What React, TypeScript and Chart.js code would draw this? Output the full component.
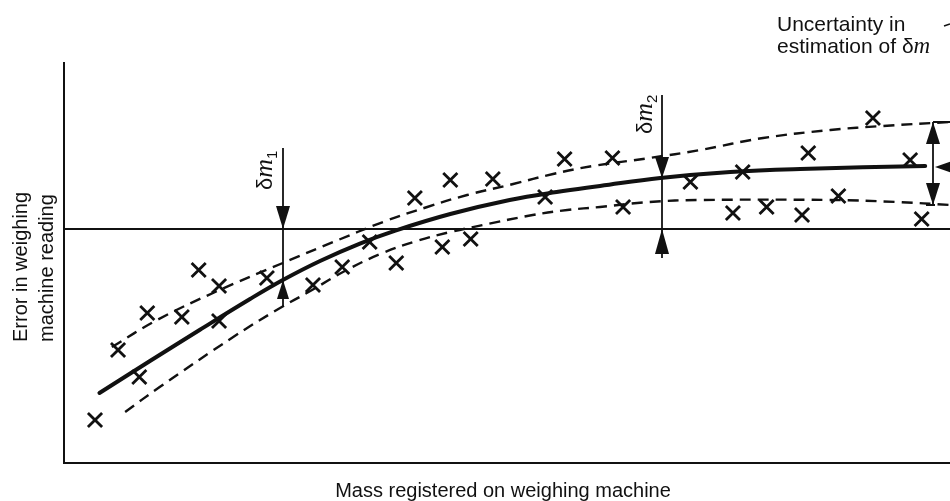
import React, { useEffect, useRef } from "react";
import { Chart, registerables } from "chart.js";

Chart.register(...registerables);

// ---- data (arbitrary units: x = mass registered, y = error in reading) ----
const markerX = [3.5, 6.1, 8.5, 9.4, 13.3, 15.2, 17.5, 17.5, 22.9, 28.1, 31.4, 34.5, 37.5, 39.6, 42.7, 43.6, 45.9, 48.4, 54.3, 56.5, 61.9, 63.1, 70.7, 76.6, 75.5, 79.3, 84.0, 83.3, 87.4, 91.3, 95.5, 96.8];
const markerY = [-9.55, -6.05, -7.4, -4.2, -4.4, -2.05, -2.85, -4.6, -2.45, -2.8, -1.9, -0.65, -1.7, 1.55, -0.9, 2.45, -0.5, 2.5, 1.6, 3.5, 3.55, 1.1, 2.35, 2.85, 0.8, 1.1, 3.8, 0.7, 1.65, 5.55, 3.45, 0.5];

const fitX = [4.0, 9.7, 15.3, 21.0, 24.7, 28.9, 33.4, 37.4, 43.6, 50.3, 55.6, 60.5, 67.3, 75.2, 83.1, 97.2];
const fitY = [-8.2, -6.6, -5.05, -3.5, -2.55, -1.6, -0.73, -0.08, 0.75, 1.45, 1.85, 2.15, 2.55, 2.85, 3.0, 3.15];

const upperX = [5.4, 10.5, 17.3, 24.7, 30.4, 36.0, 41.0, 45.5, 50.7, 55.2, 59.7, 66.1, 71.8, 78.9, 86.5, 92.4, 100];
const upperY = [-5.9, -4.55, -3.1, -1.7, -0.65, 0.35, 1.1, 1.7, 2.25, 2.75, 3.15, 3.55, 3.95, 4.55, 4.95, 5.15, 5.35];

const lowerX = [6.9, 10.8, 19.1, 24.0, 28.0, 31.7, 35.7, 39.8, 43.6, 47.3, 52.9, 56.8, 60.5, 66.1, 71.8, 86.5, 94.0, 100];
const lowerY = [-9.15, -7.9, -5.4, -4.05, -3.05, -2.1, -1.25, -0.6, -0.15, 0.2, 0.7, 0.95, 1.1, 1.35, 1.45, 1.45, 1.35, 1.2];

const xTitle = "Mass registered on weighing machine";
const yTitleLines = ["Error in weighing", "machine reading"];
const noteLine1 = "Uncertainty in";
const noteLine2 = "estimation of ";

// annotation anchors (data units)
const d1X = 24.7, d1Top = 4.05, d1Bottom = -3.9, d1Fit = -2.55;
const d2X = 67.5, d2Top = 6.7, d2Bottom = -1.45, d2Fit = 2.55;
const uX = 98.1, uTop = 5.35, uBottom = 1.2, uFit = 3.1;

const X_MIN = 0, X_MAX = 100, Y_MIN = -11.7, Y_MAX = 8.35;

const INK = "#111";
const SANS = '"Liberation Sans", Arial, sans-serif';
const SERIF = '"Liberation Serif", "Times New Roman", serif';

function toPts(xs: number[], ys: number[]) {
  return xs.map((x, i) => ({ x, y: ys[i] }));
}

function head(ctx: CanvasRenderingContext2D, x: number, tipY: number, dir: number, len: number, hw: number) {
  // dir = 1: pointing down (tip below base); dir = -1: pointing up
  ctx.beginPath();
  ctx.moveTo(x, tipY);
  ctx.lineTo(x - hw, tipY - dir * len);
  ctx.lineTo(x + hw, tipY - dir * len);
  ctx.closePath();
  ctx.fill();
}

function deltaLabel(ctx: CanvasRenderingContext2D, baseX: number, startY: number, sub: string) {
  ctx.save();
  ctx.translate(baseX, startY);
  ctx.rotate(-Math.PI / 2);
  ctx.textAlign = "left";
  ctx.textBaseline = "alphabetic";
  let cx = 0;
  ctx.font = `22px ${SANS}`;
  ctx.fillText("δ", cx, 0);
  cx += ctx.measureText("δ").width;
  ctx.font = `italic 26px ${SERIF}`;
  ctx.fillText("m", cx, 0);
  cx += ctx.measureText("m").width;
  ctx.font = `15px ${SANS}`;
  ctx.fillText(sub, cx, 5);
  ctx.restore();
}

const annotations = {
  id: "annotations",
  beforeDatasetsDraw(chart: any) {
    const { ctx, chartArea: a } = chart;
    const ys = chart.scales.y;
    ctx.save();
    ctx.strokeStyle = INK;
    ctx.lineWidth = 2;
    ctx.beginPath();
    ctx.moveTo(a.left, a.top);
    ctx.lineTo(a.left, a.bottom);
    ctx.lineTo(a.right, a.bottom);
    ctx.stroke();
    const y0 = ys.getPixelForValue(0);
    ctx.beginPath();
    ctx.moveTo(a.left, y0);
    ctx.lineTo(a.right, y0);
    ctx.stroke();
    ctx.restore();
  },
  afterDatasetsDraw(chart: any) {
    const { ctx, chartArea: a } = chart;
    const xs = chart.scales.x;
    const ys = chart.scales.y;
    const px = (v: number) => xs.getPixelForValue(v);
    const py = (v: number) => ys.getPixelForValue(v);
    ctx.save();
    ctx.strokeStyle = INK;
    ctx.fillStyle = INK;
    ctx.lineWidth = 1.8;

    // δm1
    const x1 = Math.round(px(d1X));
    ctx.beginPath();
    ctx.moveTo(x1, py(d1Top));
    ctx.lineTo(x1, py(d1Bottom));
    ctx.stroke();
    head(ctx, x1, py(0), 1, 23, 7);
    head(ctx, x1, py(d1Fit), -1, 19, 6);
    deltaLabel(ctx, x1 - 11, py(d1Top) + 42, "1");

    // δm2
    const x2 = Math.round(px(d2X));
    ctx.beginPath();
    ctx.moveTo(x2, py(d2Top));
    ctx.lineTo(x2, py(d2Bottom));
    ctx.stroke();
    head(ctx, x2, py(d2Fit), 1, 21, 7);
    head(ctx, x2, py(0), -1, 25, 7);
    deltaLabel(ctx, x2 - 10, py(d2Top) + 39, "2");

    // uncertainty double arrow
    const x3 = Math.round(px(uX));
    ctx.beginPath();
    ctx.moveTo(x3, py(uTop));
    ctx.lineTo(x3, py(uBottom));
    ctx.stroke();
    head(ctx, x3, py(uTop), -1, 22, 7);
    head(ctx, x3, py(uBottom), 1, 22, 7);
    ctx.lineWidth = 2;
    ctx.beginPath();
    ctx.moveTo(x3, py(uTop));
    ctx.lineTo(a.right, py(uTop));
    ctx.moveTo(x3 - 7, py(uBottom));
    ctx.lineTo(x3 + 2, py(uBottom));
    ctx.stroke();
    // pointer to fitted curve
    ctx.beginPath();
    ctx.moveTo(x3 + 2, py(uFit));
    ctx.lineTo(a.right + 2, py(uFit) - 6);
    ctx.lineTo(a.right + 2, py(uFit) + 6);
    ctx.closePath();
    ctx.fill();

    // titles
    ctx.textBaseline = "alphabetic";
    ctx.font = `20px ${SANS}`;
    ctx.textAlign = "center";
    ctx.fillText(xTitle, (a.left + a.right) / 2 - 4, 497);

    ctx.save();
    ctx.textAlign = "left";
    ctx.translate(27, 342);
    ctx.rotate(-Math.PI / 2);
    ctx.fillText(yTitleLines[0], 0, 0);
    ctx.fillText(yTitleLines[1], 0, 26);
    ctx.restore();

    // note
    ctx.textAlign = "left";
    ctx.font = `21px ${SANS}`;
    ctx.fillText(noteLine1, 777, 31);
    ctx.fillText(noteLine2, 777, 53);
    let nx = 777 + ctx.measureText(noteLine2).width;
    ctx.fillText("δ", nx, 53);
    nx += ctx.measureText("δ").width;
    ctx.font = `italic 23px ${SERIF}`;
    ctx.fillText("m", nx, 53);
    ctx.lineWidth = 1.5;
    ctx.beginPath();
    ctx.moveTo(944, 26);
    ctx.lineTo(950, 24);
    ctx.stroke();

    ctx.restore();
  },
};

export default function App() {
  const ref = useRef<HTMLCanvasElement>(null);
  useEffect(() => {
    if (!ref.current) return;
    const chart = new Chart(ref.current, {
      type: "scatter",
      data: {
        datasets: [
          {
            label: "Readings",
            data: toPts(markerX, markerY),
            showLine: false,
            pointStyle: "crossRot",
            pointRadius: 10,
            pointBorderWidth: 2.8,
            borderColor: INK,
            backgroundColor: INK,
          },
          {
            label: "Best fit",
            data: toPts(fitX, fitY),
            showLine: true,
            pointRadius: 0,
            borderWidth: 4,
            borderColor: INK,
            tension: 0.4,
            borderCapStyle: "round",
          },
          {
            label: "Upper limit",
            data: toPts(upperX, upperY),
            showLine: true,
            pointRadius: 0,
            borderWidth: 2.4,
            borderDash: [11, 7],
            borderColor: INK,
            tension: 0.4,
          },
          {
            label: "Lower limit",
            data: toPts(lowerX, lowerY),
            showLine: true,
            pointRadius: 0,
            borderWidth: 2.4,
            borderDash: [11, 7],
            borderColor: INK,
            tension: 0.4,
          },
        ],
      },
      options: {
        animation: false,
        responsive: false,
        maintainAspectRatio: false,
        layout: { autoPadding: false, padding: { left: 64, right: 0, top: 62, bottom: 38 } },
        plugins: { legend: { display: false }, tooltip: { enabled: false } },
        scales: {
          x: { type: "linear", min: X_MIN, max: X_MAX, display: false },
          y: { type: "linear", min: Y_MIN, max: Y_MAX, display: false },
        },
      },
      plugins: [annotations],
    } as any);
    return () => chart.destroy();
  }, []);
  return (
    <div style={{ position: "absolute", left: 0, top: 0, width: 950, height: 501, background: "#fff" }}>
      <canvas ref={ref} width={950} height={501} style={{ display: "block" }} />
    </div>
  );
}
